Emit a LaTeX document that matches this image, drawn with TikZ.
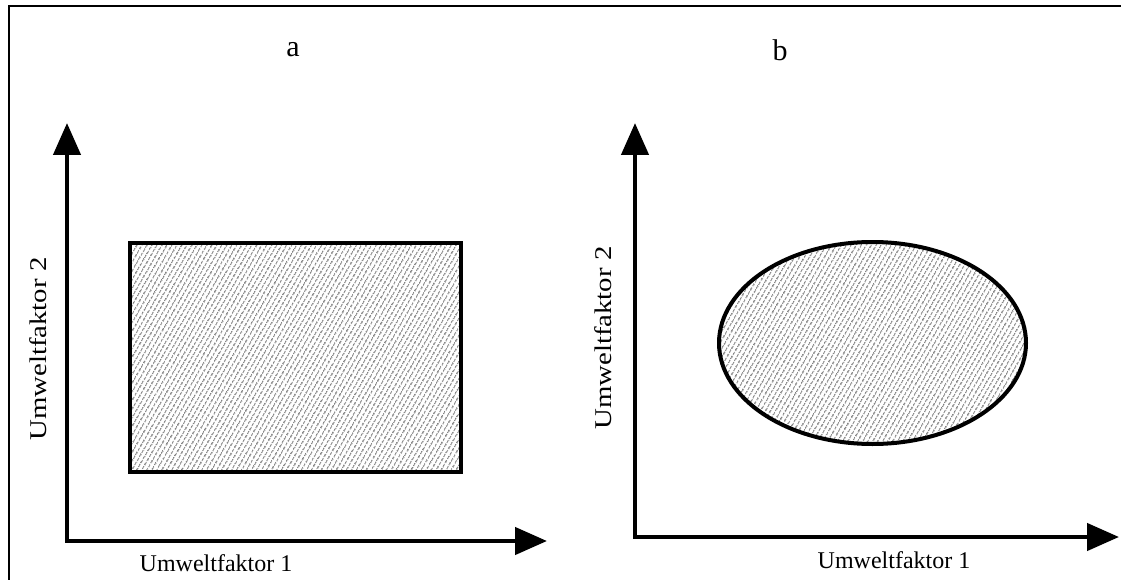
\documentclass[tikz,border=0pt]{standalone}
\usepackage{fontspec}
\setmainfont{Liberation Serif}
\usetikzlibrary{arrows.meta, patterns.meta, shapes.geometric, positioning}

\begin{document}
\begin{tikzpicture}[
    x=1pt, y=-1pt,
    font=\fontsize{24}{28}\selectfont,
    axis/.style={
        line width=4.5pt,
        line join=miter,
        {Triangle[length=32pt,width=27pt]}-{Triangle[length=32pt,width=27pt]}
    },
    region/.style={
        draw, line width=4pt,
        inner sep=0pt,
        pattern={Lines[angle=60,distance=4pt,line width=1pt]},
        pattern color=black!75
    },
    panel/.style={font=\fontsize{30}{34}\selectfont},
    ylab/.style={rotate=90, xscale=1.2}
]
\useasboundingbox (0,0) rectangle (1121,580);

% ==========================================
% FRAME
% ==========================================

\coordinate (fbl) at (9,580);
\coordinate (ftl) at (9,6);
\coordinate (ftr) at (1121,6);
\draw[line width=2.5pt] (fbl) -- (ftl) -- (ftr);

% ==========================================
% PANEL A
% ==========================================

\node[panel] (titleA) at (293,50) {a};

\coordinate (oA) at (67,541);
\coordinate (yA) at (67,123);
\coordinate (xA) at (547,541);
\draw[axis] (yA) -- (oA) -- (xA);

\node[region, rectangle, minimum width=331, minimum height=229] (nicheA) at (295.5,357.5) {};

\node (xlabA) at (216,563) {Umweltfaktor 1};
\node[ylab] (ylabA) at (38,349) {Umweltfaktor 2};

% ==========================================
% PANEL B
% ==========================================

\node[panel] (titleB) at (780,50) {b};

\coordinate (oB) at (635,537);
\coordinate (yB) at (635,123);
\coordinate (xB) at (1119,537);
\draw[axis] (yB) -- (oB) -- (xB);

\node[region, ellipse, minimum width=307, minimum height=202] (nicheB) at (872.5,343) {};

\node (xlabB) at (894,560) {Umweltfaktor 1};
\node[ylab] (ylabB) at (603,338) {Umweltfaktor 2};

\end{tikzpicture}
\end{document}
